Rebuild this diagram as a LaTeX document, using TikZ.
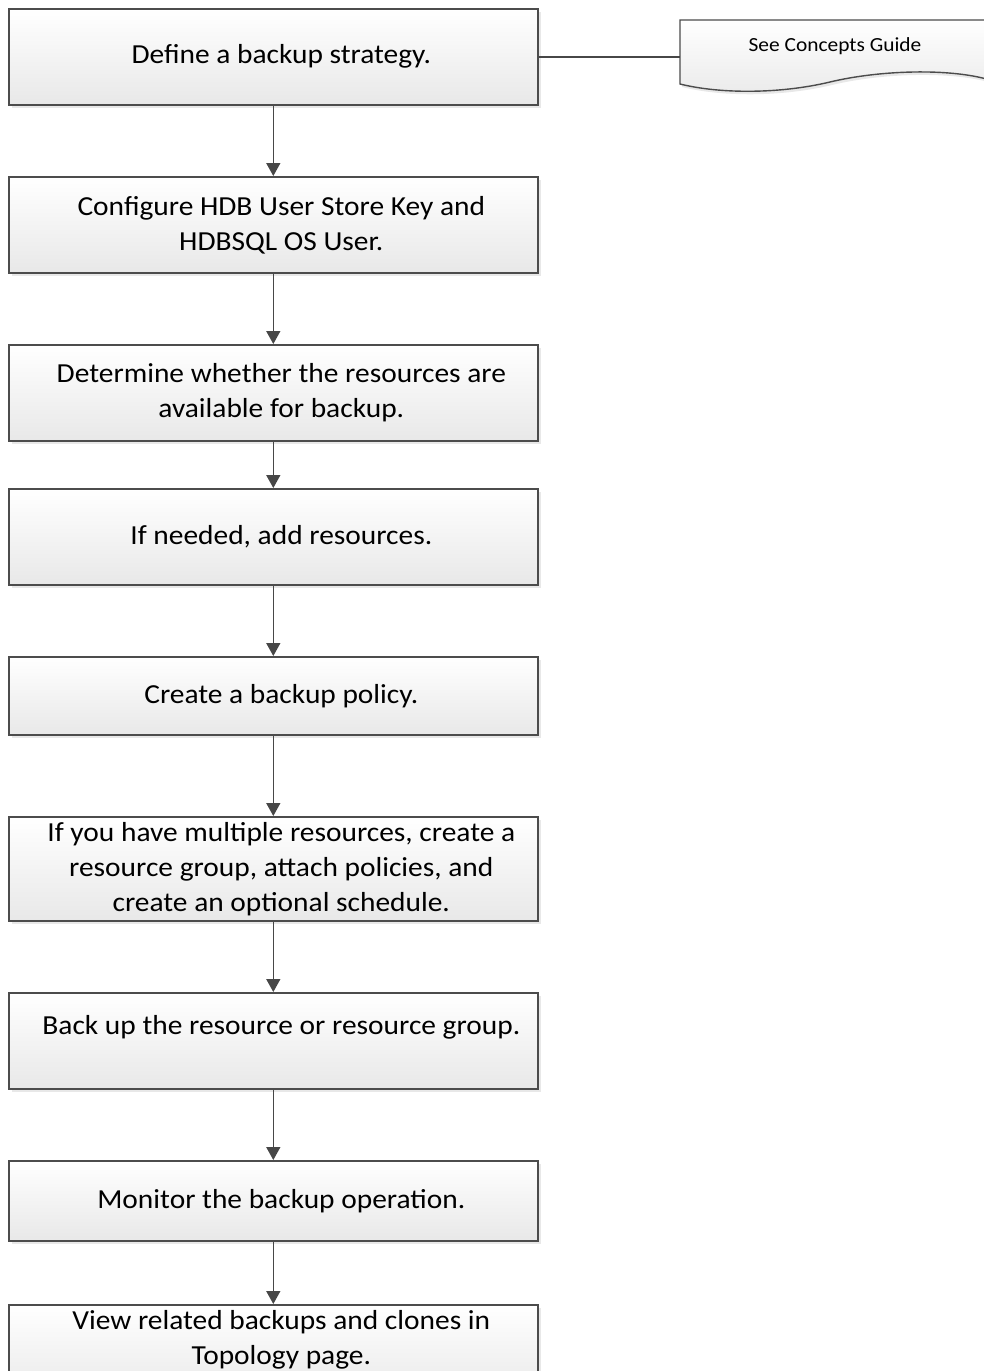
\documentclass[tikz,border=0pt]{standalone}
\usepackage{fontspec}
\setmainfont[FakeStretch=1.07]{Carlito}
\usetikzlibrary{arrows.meta,shadows}
\begin{document}
\begin{tikzpicture}[x=1pt,y=-1pt,
  stepbox/.style={draw=black!70,line width=1.6pt,top color=white,bottom color=black!9,
    drop shadow={shadow xshift=3pt,shadow yshift=-3pt,fill=black!15,opacity=0.6},
    minimum width=529pt,inner sep=0pt,anchor=north west},
  steptext/.style={align=center,font=\fontsize{27.5}{35}\selectfont,inner sep=0pt},
  conn/.style={draw=black!72,line width=1.6pt,-{Triangle[length=13pt,width=14pt]}}]
\useasboundingbox (0,0) rectangle (984,1371);
\clip (0,0) rectangle (984,1371);
\node[stepbox,minimum height=96pt] (s1) at (8,8) {};
\node[stepbox,minimum height=96pt] (s2) at (8,176) {};
\node[stepbox,minimum height=96pt] (s3) at (8,344) {};
\node[stepbox,minimum height=96pt] (s4) at (8,488) {};
\node[stepbox,minimum height=78pt] (s5) at (8,656) {};
\node[stepbox,minimum height=104pt] (s6) at (8,816) {};
\node[stepbox,minimum height=96pt] (s7) at (8,992) {};
\node[stepbox,minimum height=80pt] (s8) at (8,1160) {};
\node[stepbox,minimum height=96pt] (s9) at (8,1304) {};
\node[steptext] (t1) at ([xshift=8pt]s1.center) {Define a backup strategy.};
\node[steptext] (t2) at ([xshift=8pt]s2.center) {Configure HDB User Store Key and\\HDBSQL OS User.};
\node[steptext] (t3) at ([xshift=8pt]s3.center) {Determine whether the resources are\\available for backup.};
\node[steptext] (t4) at ([xshift=8pt]s4.center) {If needed, add resources.};
\node[steptext] (t5) at ([xshift=8pt]s5.center) {Create a backup policy.};
\node[steptext] (t6) at ([xshift=8pt]s6.center) {If you have multiple resources, create a\\resource group, attach policies, and\\create an optional schedule.};
\node[steptext] (t7) at ([xshift=8pt,yshift=13pt]s7.center) {Back up the resource or resource group.};
\node[steptext] (t8) at ([xshift=8pt]s8.center) {Monitor the backup operation.};
\node[steptext] (t9) at ([xshift=8pt,yshift=-36pt]s9.north) {View related backups and clones in\\Topology page.};
\foreach \a/\b in {s1/s2,s2/s3,s3/s4,s4/s5,s5/s6,s6/s7,s7/s8,s8/s9}
  \draw[conn] (\a.south) -- (\b.north);
% document shape
\coordinate (d1) at (680,20);
\coordinate (d2) at (990,20);
\coordinate (d3) at (990,80);
\coordinate (d4) at (680,84);
\draw[draw=black!70,line width=1.4pt,top color=white,bottom color=black!8,
  drop shadow={shadow xshift=2pt,shadow yshift=-3pt,fill=black!15,opacity=0.6}]
  (d4) -- (d1) -- (d2) -- (d3) .. controls (950,68) and (880,70) .. (830,82)
  .. controls (780,94) and (720,94) .. (d4) -- cycle;
\node[font=\fontsize{20}{24}\selectfont] (doc) at (835,46) {See Concepts Guide};
\draw[draw=black!72,line width=1.4pt] (s1.east) -- (s1.east -| d1);
\end{tikzpicture}
\end{document}
